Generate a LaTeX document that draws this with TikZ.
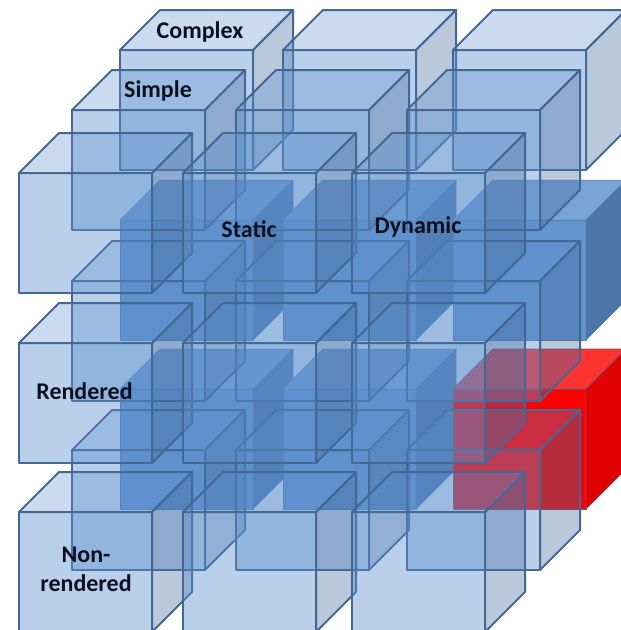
\documentclass[tikz,border=0pt]{standalone}
\usepackage{fontspec}
\setmainfont{Carlito}
\definecolor{glassfront}{RGB}{91,143,204}
\definecolor{glassside}{RGB}{70,110,160}
\definecolor{edgeblue}{RGB}{68,104,148}
\definecolor{solidfront}{RGB}{98,148,206}
\definecolor{solidtop}{RGB}{122,163,214}
\definecolor{solidside}{RGB}{76,118,168}
\definecolor{redtop}{RGB}{255,50,50}
\definecolor{redside}{RGB}{225,0,0}
\definecolor{inktext}{RGB}{10,16,32}
\tikzset{
  glassedge/.style={draw=edgeblue,line width=2pt,line join=round},
  glassF/.style={glassedge,fill=glassfront,fill opacity=.42},
  glassT/.style={glassedge,fill=glassfront,fill opacity=.32},
  glassS/.style={glassedge,fill=glassside,fill opacity=.38},
  solidF/.style={draw=solidfront!85!black,line width=.5pt,fill=solidfront},
  solidT/.style={draw=solidfront!85!black,line width=.5pt,fill=solidtop},
  solidS/.style={draw=solidfront!85!black,line width=.5pt,fill=solidside},
  redF/.style={draw=edgeblue!70!red,line width=.8pt,fill=red},
  redT/.style={draw=edgeblue!70!red,line width=.8pt,fill=redtop},
  redS/.style={draw=edgeblue!70!red,line width=.8pt,fill=redside},
  caption/.style={font=\bfseries\fontsize{24}{29}\selectfont,text=inktext,align=center,inner sep=0pt}
}
% #1 left x, #2 top y of the front face, #3 style prefix
\newcommand{\boxcube}[3]{%
  \pgfmathsetmacro{\xr}{#1+133}\pgfmathsetmacro{\yb}{#2+120}%
  \pgfmathsetmacro{\xa}{#1+40}\pgfmathsetmacro{\xb}{#1+173}\pgfmathsetmacro{\yt}{#2-40}%
  \path[#3F] (#1,#2) rectangle (\xr,\yb);
  \path[#3T] (#1,#2) -- (\xa,\yt) -- (\xb,\yt) -- (\xr,#2) -- cycle;
  \path[#3S] (\xr,#2) -- (\xb,\yt) -- (\xb,#2+80) -- (\xr,\yb) -- cycle;
}
\begin{document}
\begin{tikzpicture}[x=1pt,y=-1pt]
\useasboundingbox (0,0) rectangle (621,630);
\clip (0,0) rectangle (621,630);
% back layer
\foreach \x in {120,283,453} {\boxcube{\x}{50}{glass}}
\foreach \x in {120,283,453} {\boxcube{\x}{220}{solid}}
\foreach \x in {120,283} {\boxcube{\x}{389}{solid}}
\boxcube{453}{389}{red}
% middle layer
\foreach \x in {72,236,407} {\foreach \y in {110,281,450} {\boxcube{\x}{\y}{glass}}}
% front layer
\foreach \x in {19,183,352} {\foreach \y in {173,343,512} {\boxcube{\x}{\y}{glass}}}
% labels
\node[caption] (complex) at (200,32) {Complex};
\node[caption] (simple) at (158,91) {Simple};
\node[caption] (static) at (249,229) {Static};
\node[caption] (dynamic) at (418,227) {Dynamic};
\node[caption] (rendered) at (84.5,391) {Rendered};
\node[caption] (nonrendered) at (86,569) {Non-\\rendered};
\end{tikzpicture}
\end{document}
